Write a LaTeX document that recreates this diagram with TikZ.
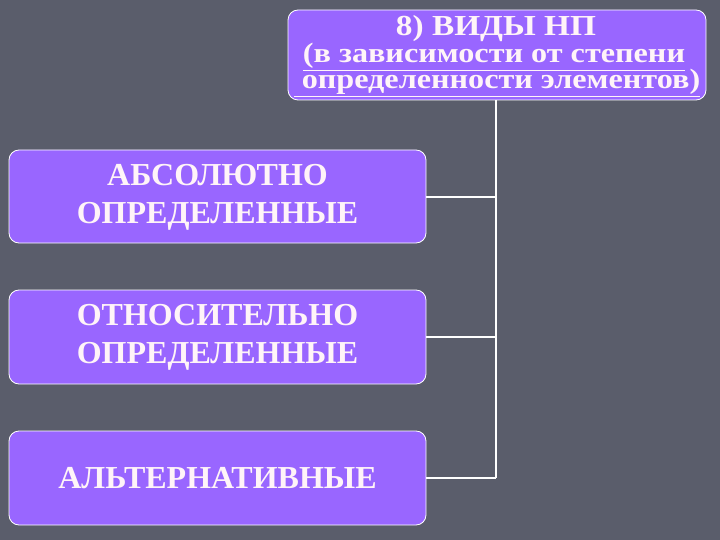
\documentclass[tikz,border=0pt]{standalone}
\usepackage{fontspec}
\setmainfont{Liberation Serif}
\newfontfamily\widefont[FakeStretch=1.15]{Liberation Serif}
\begin{document}
\begin{tikzpicture}[x=1pt,y=1pt,
  box/.style={draw=white, line width=0.8pt, fill=boxfill, rounded corners=10pt},
  lbl/.style={text=txt, font=\bfseries\fontsize{32}{38}\selectfont, align=center, inner sep=0pt},
  ttl/.style={text=txt, font=\widefont\bfseries\fontsize{28}{28}\selectfont, inner sep=0pt, anchor=base},
  conn/.style={draw=white, line width=1.5pt}]
\definecolor{bg}{HTML}{5A5D6B}
\definecolor{boxfill}{HTML}{9966FF}
\definecolor{txt}{HTML}{FFF4F8}
\fill[bg] (0,0) rectangle (720,-540);
\useasboundingbox (0,0) rectangle (720,-540);
% title
\draw[box] (288,-10) rectangle (706,-100);
\node[ttl, font=\widefont\bfseries\fontsize{29}{29}\selectfont] (t1) at (496,-36) {8) ВИДЫ НП};
\node[ttl] (t2) at (494,-63) {\underline{(в зависимости от степени}};
\node[ttl] (t3) at (497,-89) {\underline{ определенности элементов)}};
\coordinate (top) at (496,-100);
% boxes
\draw[box] (9,-150) rectangle (426,-243);
\node[lbl] (b1) at (217.5,-197) {АБСОЛЮТНО\\ОПРЕДЕЛЕННЫЕ};
\draw[box] (9,-290) rectangle (426,-384);
\node[lbl] (b2) at (217.5,-337) {ОТНОСИТЕЛЬНО\\ОПРЕДЕЛЕННЫЕ};
\draw[box] (9,-431) rectangle (426,-525);
\node[lbl] (b3) at (217.5,-478) {АЛЬТЕРНАТИВНЫЕ};
\coordinate (e1) at (426,-197);
\coordinate (e2) at (426,-337);
\coordinate (e3) at (426,-478);
\coordinate (j1) at (496,-197);
\coordinate (j2) at (496,-337);
\coordinate (j3) at (496,-478);
\draw[conn] (top) -- (j3);
\draw[conn] (e1) -- (j1);
\draw[conn] (e2) -- (j2);
\draw[conn] (e3) -- (j3);
\end{tikzpicture}
\end{document}
